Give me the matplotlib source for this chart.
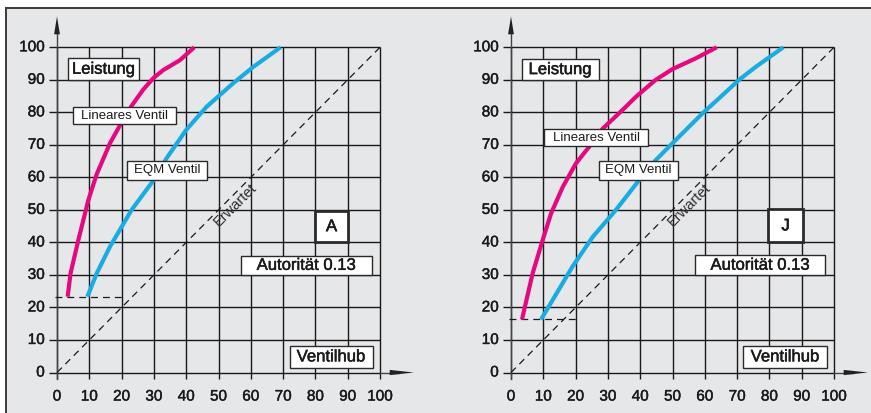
import matplotlib
matplotlib.use("Agg")
import matplotlib.pyplot as plt
from matplotlib.patches import Rectangle, Polygon
from matplotlib.lines import Line2D
import matplotlib.patheffects as pe

plt.rcParams['font.family'] = ['Liberation Sans', 'DejaVu Sans']

# ---------------- data ----------------
ticks = [0, 10, 20, 30, 40, 50, 60, 70, 80, 90, 100]

# Panel A
a_lin_x = [3.3, 4.2, 6.6, 9.7, 12.3, 16.4, 19.5, 23.1, 26.7, 29.8, 32.9, 38.0, 42.5]
a_lin_y = [23.3, 30.5, 40.7, 53.0, 61.0, 70.5, 76.0, 82.0, 87.0, 90.5, 93.0, 96.0, 100.0]
a_eqm_x = [9.4, 12.3, 16.4, 23.1, 29.8, 34.0, 40.0, 46.3, 54.6, 60.8, 69.2]
a_eqm_y = [23.3, 30.5, 38.7, 50.0, 59.0, 66.0, 74.6, 81.7, 89.0, 94.0, 100.0]
a_min = 23.3

# Panel J
j_lin_x = [3.4, 6.7, 9.8, 12.4, 16.0, 20.1, 24.2, 28.4, 34.5, 38.7, 44.8, 50.0, 57.2, 63.7]
j_lin_y = [16.3, 30.5, 40.7, 48.9, 57.0, 64.3, 69.4, 75.0, 80.7, 84.8, 90.0, 93.3, 96.6, 100.0]
j_eqm_x = [9.3, 12.9, 19.0, 25.3, 32.5, 39.7, 44.8, 50.0, 59.3, 64.4, 70.6, 75.8, 84.3]
j_eqm_y = [16.3, 22.3, 32.5, 41.7, 50.0, 59.2, 65.3, 70.5, 79.7, 84.3, 90.0, 94.0, 100.0]
j_min = 16.3

diag = [0, 100]

panel_letters = ["A", "J"]
authority_text = "Autorität 0.13"

# ---------------- layout ----------------
W, H = 871, 413
fig = plt.figure(figsize=(W / 100, H / 100), dpi=100)

BG = "#e6e7e9"
FRAME = "#3a3a3a"
PINK = "#e5097f"
CYAN = "#1aabe3"
INK = "#1a1a1a"


def fx(px):
    return px / W


def fy(py):
    return 1 - py / H


def heavy(w=0.3, c=INK):
    return [pe.withStroke(linewidth=w, foreground=c)]


fig.patches.append(Rectangle((fx(5.5), 0), 1 - fx(5.5), fy(7.5), transform=fig.transFigure,
                             facecolor=BG, edgecolor="none", zorder=-5))
fig.lines.append(Line2D([fx(5.5), 1], [fy(7.5), fy(7.5)], transform=fig.transFigure,
                        color=FRAME, lw=1.4, zorder=-4))
fig.lines.append(Line2D([fx(5.5), fx(5.5)], [0, fy(7.5)], transform=fig.transFigure,
                        color=FRAME, lw=1.4, zorder=-4))

y0_px, y100_px = 372.5, 47.3


def make_panel(x0_px, x100_px, lin_x, lin_y, eqm_x, eqm_y, ymin, boxes):
    ax = fig.add_axes([fx(x0_px), fy(y0_px), (x100_px - x0_px) / W, (y0_px - y100_px) / H])
    ax.set_xlim(0, 100)
    ax.set_ylim(0, 100)
    ax.axis("off")

    # grid
    for t in ticks:
        ax.plot([-2.6, 100], [t, t], color=INK, lw=1.0, clip_on=False, zorder=1,
                solid_capstyle="butt")
        ax.plot([t, t], [-2.0, 100], color=INK, lw=1.0, clip_on=False, zorder=1,
                solid_capstyle="butt")
    # axes with arrows
    ax.plot([0, 0], [-2.0, 106], color="#444444", lw=1.0, clip_on=False, zorder=1)
    ax.plot([100, 106], [0, 0], color="#444444", lw=1.0, clip_on=False, zorder=1)
    ax.add_patch(Polygon([[-0.9, 104], [0.9, 104], [0, 109.5]], closed=True,
                         facecolor="#222222", edgecolor="none", clip_on=False, zorder=2))
    ax.add_patch(Polygon([[103, -0.8], [103, 0.8], [110.5, 0]], closed=True,
                         facecolor="#222222", edgecolor="none", clip_on=False, zorder=2))

    # tick labels
    for t in ticks:
        ax.text(-3.8, t, str(t), ha="right", va="center", fontsize=11, color=INK,
                clip_on=False, path_effects=heavy())
        ax.text(t, -7.4, str(t), ha="center", va="center", fontsize=11, color=INK,
                clip_on=False, path_effects=heavy())

    # expected diagonal
    ax.plot(diag, diag, color=INK, lw=0.9, dashes=(5.5, 4.0), zorder=2, clip_on=False)
    ax.text(55.1, 51.6, "Erwartet", rotation=45, ha="center", va="center",
            fontsize=10.5, color="#2e2e2e", rotation_mode="anchor", zorder=3)

    # minimum line
    ax.plot([-0.5, 20.5], [ymin, ymin], color=INK, lw=0.9, dashes=(5.5, 4.0), zorder=2,
            clip_on=False)

    # curves
    ax.plot(lin_x, lin_y, color=PINK, lw=3.0, zorder=4, solid_capstyle="butt",
            solid_joinstyle="round", clip_on=False)
    ax.plot(eqm_x, eqm_y, color=CYAN, lw=3.0, zorder=4, solid_capstyle="butt",
            solid_joinstyle="round", clip_on=False)

    # labels in boxes
    for (x1, x2, y1, y2, txt, fs, lw, hw) in boxes:
        ax.add_patch(Rectangle((x1, y1), x2 - x1, y2 - y1, facecolor="white",
                               edgecolor="#2a2a2a", lw=lw, zorder=5, clip_on=False))
        ax.text((x1 + x2) / 2, (y1 + y2) / 2, txt, ha="center", va="center",
                fontsize=fs, color=INK, zorder=6, clip_on=False,
                path_effects=heavy(hw) if hw > 0 else None)
    return ax


boxes_a = [
    (3.3, 25.5, 89.9, 96.6, "Leistung", 12, 1.0, 0.35),
    (5.0, 36.8, 76.4, 81.5, "Lineares Ventil", 9.5, 1.0, 0.0),
    (21.8, 46.3, 59.2, 65.1, "EQM Ventil", 9.5, 1.0, 0.0),
    (80.0, 90.0, 40.0, 49.7, panel_letters[0], 12, 2.0, 0.45),
    (57.0, 97.4, 30.0, 35.9, authority_text, 12, 1.0, 0.35),
    (72.0, 97.7, 1.5, 8.1, "Ventilhub", 12, 1.0, 0.35),
]
boxes_j = [
    (3.3, 27.1, 90.0, 96.3, "Leistung", 12, 1.0, 0.35),
    (10.3, 42.5, 69.6, 74.8, "Lineares Ventil", 9.5, 1.0, 0.0),
    (27.1, 51.8, 59.2, 65.1, "EQM Ventil", 9.5, 1.0, 0.0),
    (79.7, 90.3, 40.0, 50.2, panel_letters[1], 12, 2.0, 0.45),
    (57.1, 97.2, 30.0, 36.0, authority_text, 12, 1.0, 0.35),
    (71.9, 97.8, 1.5, 8.1, "Ventilhub", 12, 1.0, 0.35),
]

make_panel(57, 380, a_lin_x, a_lin_y, a_eqm_x, a_eqm_y, a_min, boxes_a)
make_panel(511, 834, j_lin_x, j_lin_y, j_eqm_x, j_eqm_y, j_min, boxes_j)

fig.savefig("out.png", dpi=100, facecolor="white")
